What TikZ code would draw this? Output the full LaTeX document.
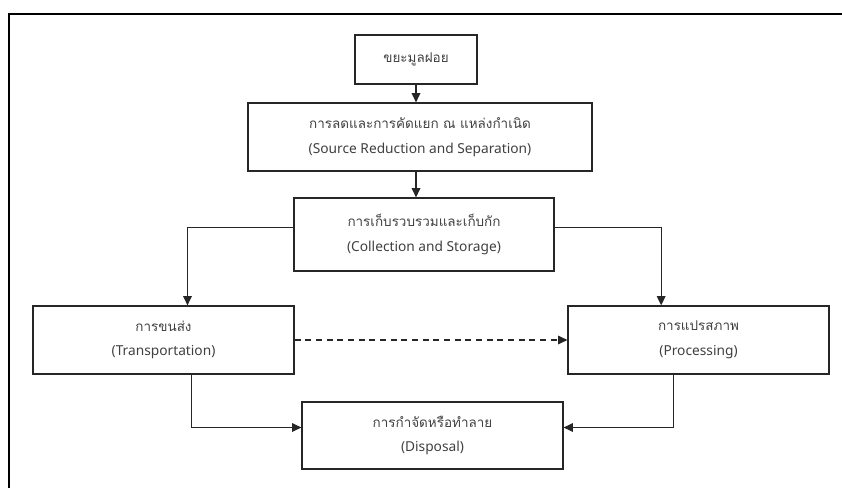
\documentclass[tikz,border=0pt]{standalone}
\usepackage{fontspec}
\newfontfamily\thaifont[Script=Thai,Scale=0.98]{Loma}
\newfontfamily\latinfont{Noto Sans}
\usetikzlibrary{arrows.meta,positioning}

\tikzset{
    stagebox/.style={draw=black!85, line width=0.9pt, rectangle, align=center,
        text=black!75, inner sep=0pt, font=\fontsize{10.3}{18.5}\selectfont},
    flow/.style={draw=black!85, line width=0.9pt, -{Triangle[length=7pt,width=6.5pt]}},
}

%% two lines of a box: Thai above, English below
\newcommand{\twolines}[2]{{\thaifont #1}\\{\latinfont #2}}

\begin{document}
\begin{tikzpicture}[x=0.75pt,y=-0.75pt]
    \useasboundingbox (0,0) rectangle (842,488);

    %% the frame round the figure
    \draw[line width=0.9pt] (9,495) -- (9,14) -- (850,14);

    %% the stages
    \node[stagebox, minimum width=91.5pt, minimum height=36.75pt] (waste) at (416,59.5)
        {{\thaifont ขยะมูลฝอย}};
    \node[stagebox, minimum width=258pt, minimum height=51pt] (reduce) at (420,137)
        {\twolines{การลดและการคัดแยก ณ แหล่งกำเนิด}{(Source Reduction and Separation)}};
    \node[stagebox, minimum width=195pt, minimum height=54.75pt] (collect) at (424,234.5)
        {\twolines{การเก็บรวบรวมและเก็บกัก}{(Collection and Storage)}};
    \node[stagebox, minimum width=195.75pt, minimum height=51pt] (transport) at (163.5,340)
        {\twolines{การขนส่ง}{(Transportation)}};
    \node[stagebox, minimum width=195.75pt, minimum height=51pt] (process) at (698.5,340)
        {\twolines{การแปรสภาพ}{(Processing)}};
    \node[stagebox, minimum width=195.75pt, minimum height=50.25pt] (dispose) at (432.5,435.5)
        {\twolines{การกำจัดหรือทำลาย}{(Disposal)}};

    %% the flow between them
    \draw[flow] (waste.south) -- (waste.south |- reduce.north);
    \draw[flow] (waste.south |- reduce.south) -- (waste.south |- collect.north);
    \draw[flow] ([yshift=5pt]collect.west) -| ([xshift=18pt]transport.north);
    \draw[flow] ([yshift=5pt]collect.east) -| ([xshift=-28pt]process.north);
    \draw[flow, dashed, dash pattern=on 4.5pt off 3.5pt] (transport.east) -- (process.west);
    \draw[flow] ([xshift=21pt]transport.south) |- ([yshift=6pt]dispose.west);
    \draw[flow] ([xshift=-19pt]process.south) |- ([yshift=6pt]dispose.east);
\end{tikzpicture}
\end{document}
